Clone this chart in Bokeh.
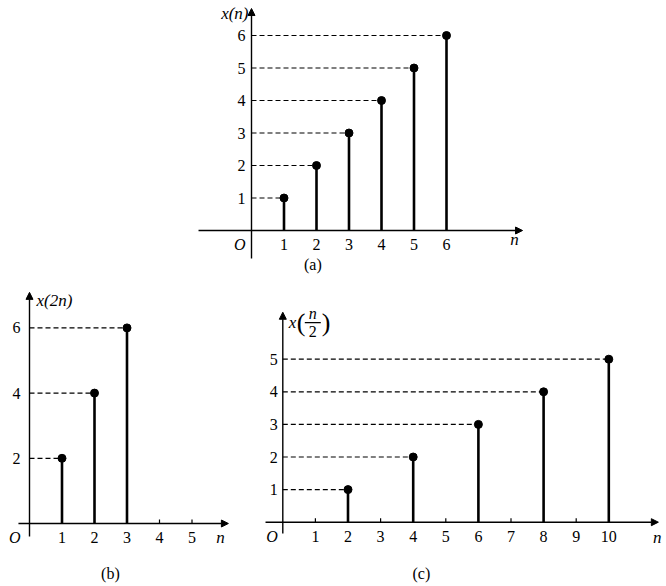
from bokeh.plotting import figure
from bokeh.layouts import column, row
from bokeh.models import Arrow, NormalHead, Range1d
from bokeh.core.properties import value
from bokeh.embed import file_html
from bokeh.resources import INLINE

# ---------------- data ----------------
a_n = [1, 2, 3, 4, 5, 6]
a_x = [1, 2, 3, 4, 5, 6]
a_xticks = [1, 2, 3, 4, 5, 6]
a_yticks = [1, 2, 3, 4, 5, 6]

b_n = [1, 2, 3]
b_x = [2, 4, 6]
b_xticks = [1, 2, 3, 4, 5]
b_yticks = [2, 4, 6]

c_n = [2, 4, 6, 8, 10]
c_x = [1, 2, 3, 4, 5]
c_xticks = [1, 2, 3, 4, 5, 6, 7, 8, 9, 10]
c_yticks = [1, 2, 3, 4, 5]

FONT = value("'Liberation Serif', 'Times New Roman', Times, serif")
TSIZE = "16px"


def panel(width, height, ox, oy, sx, sy, n, x, xticks, yticks,
          xaxis, yaxis, n_pos, caption, cap_pos, ylab_xoff):
    xr = Range1d(-ox / sx, (width - ox) / sx)
    yr = Range1d(-(height - oy) / sy, oy / sy)
    p = figure(width=width, height=height, x_range=xr, y_range=yr,
               output_backend="svg", toolbar_location=None,
               x_axis_location=None, y_axis_location=None, min_border=0)
    p.grid.visible = False
    p.outline_line_color = None
    p.background_fill_color = "white"
    p.border_fill_color = "white"

    # axes with arrows
    p.add_layout(Arrow(x_start=xaxis[0], y_start=0, x_end=xaxis[1], y_end=0,
                       line_width=1.4, line_color="black",
                       end=NormalHead(size=7, fill_color="black", line_color="black")))
    p.add_layout(Arrow(x_start=0, y_start=yaxis[0], x_end=0, y_end=yaxis[1],
                       line_width=1.4, line_color="black",
                       end=NormalHead(size=7, fill_color="black", line_color="black")))

    # small tick marks where there is no stem
    free = [t for t in xticks if t not in n]
    if free:
        p.segment(x0=free, y0=[0] * len(free), x1=free, y1=[4 / sy] * len(free),
                  line_color="black", line_width=1.2)

    # dashed guides
    p.segment(x0=[0] * len(n), y0=x, x1=n, y1=x, line_color="black",
              line_width=1.2, line_dash="5 3")
    # stems
    p.segment(x0=n, y0=[0] * len(n), x1=n, y1=x, line_color="black", line_width=2.6)
    p.scatter(n, x, size=8, color="black")

    # tick labels
    p.text(x=xticks, y=[0] * len(xticks), text=[str(t) for t in xticks],
           y_offset=14, text_align="center", text_baseline="middle",
           text_font=FONT, text_font_size=TSIZE, text_color="black")
    p.text(x=[0] * len(yticks), y=yticks, text=[str(t) for t in yticks],
           x_offset=ylab_xoff, text_align="right", text_baseline="middle",
           text_font=FONT, text_font_size=TSIZE, text_color="black")
    # origin
    p.text(x=[0], y=[0], text=["O"], x_offset=ylab_xoff, y_offset=14,
           text_align="right", text_baseline="middle", text_font=FONT,
           text_font_style="italic", text_font_size=TSIZE, text_color="black")
    # n label
    p.text(x=[n_pos[0]], y=[n_pos[1]], text=["n"], text_align="center",
           text_baseline="middle", text_font=FONT, text_font_style="italic",
           text_font_size="17px", text_color="black")
    # caption
    p.text(x=[cap_pos[0]], y=[cap_pos[1]], text=[caption], text_align="center",
           text_baseline="middle", text_font=FONT, text_font_size=TSIZE,
           text_color="black")
    return p


# (a)
pa = panel(666, 280, 251, 230, 32.5, 32.5, a_n, a_x, a_xticks, a_yticks,
           (-1.63, 8.34), (-0.86, 6.83), (8.09, -0.28), "(a)", (1.89, -1.05), -6)
pa.text(x=[0], y=[6.68], text=["x(n)"], x_offset=-3, text_align="right",
        text_baseline="middle", text_font=FONT, text_font_style="italic",
        text_font_size="17px", text_color="black")

# (b)
pb = panel(240, 306, 29, 243, 32.5, 32.6, b_n, b_x, b_xticks, b_yticks,
           (-0.34, 6.12), (-0.4, 7.09), (5.88, -0.43), "(b)", (2.49, -1.53), -9)
pb.text(x=[0], y=[6.84], text=["x(2n)"], x_offset=7, text_align="left",
        text_baseline="middle", text_font=FONT, text_font_style="italic",
        text_font_size="17px", text_color="black")

# (c)
pc = panel(426, 306, 42.3, 241.7, 32.6, 32.6, c_n, c_x, c_xticks, c_yticks,
           (-0.53, 11.52), (-0.35, 6.44), (11.49, -0.47), "(c)", (4.25, -1.57), -5)
# label x(n/2) built from pieces
yl = 6.12
pc.text(x=[0], y=[yl], text=["x"], x_offset=6, text_align="left",
        text_baseline="middle", text_font=FONT, text_font_style="italic",
        text_font_size="17px", text_color="black")
pc.text(x=[0], y=[yl], text=["("], x_offset=14, text_align="left",
        text_baseline="middle", text_font=FONT, text_font_size="26px",
        text_color="black")
pc.text(x=[0], y=[yl], text=["n"], x_offset=30, y_offset=-9, text_align="center",
        text_baseline="middle", text_font=FONT, text_font_style="italic",
        text_font_size="16px", text_color="black")
pc.text(x=[0], y=[yl], text=["2"], x_offset=30, y_offset=9, text_align="center",
        text_baseline="middle", text_font=FONT, text_font_size="16px",
        text_color="black")
pc.segment(x0=[22 / 32.6], y0=[yl], x1=[38 / 32.6], y1=[yl], line_color="black",
           line_width=1.2)
pc.text(x=[0], y=[yl], text=[")"], x_offset=39, text_align="left",
        text_baseline="middle", text_font=FONT, text_font_size="26px",
        text_color="black")

layout = column(pa, row(pb, pc))
open("out.html", "w").write(file_html(layout, INLINE))
